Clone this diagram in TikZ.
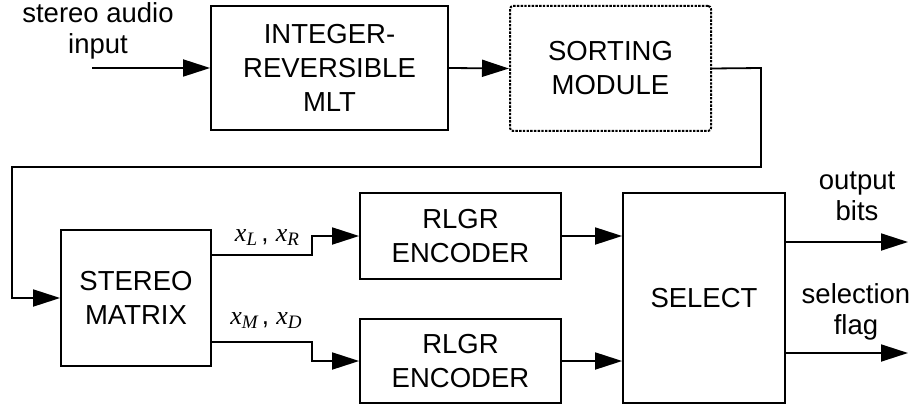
\documentclass[tikz,border=0pt]{standalone}
\usepackage{fontspec}
\setmainfont{Liberation Sans}
\newfontfamily\tmsfont{Liberation Serif}
\usetikzlibrary{arrows.meta,calc}
\newcommand{\mvar}[2]{{\tmsfont\itshape #1\raisebox{-0.35ex}{\fontsize{19}{19}\selectfont #2}}}
\begin{document}
\begin{tikzpicture}[x=1pt,y=-1pt,
  blk/.style={draw,line width=1.8pt,inner sep=0pt,align=center,
    font=\fontsize{27.5}{34}\selectfont},
  lbl/.style={inner sep=0pt,align=center,font=\fontsize{27.5}{31}\selectfont},
  arr/.style={line width=1.8pt,-{Triangle[length=27pt,width=17pt]}}]
\useasboundingbox (0,0) rectangle (915,406);
\node[blk,minimum width=237pt,minimum height=124pt] (mlt) at (329.5,68) {INTEGER-\\REVERSIBLE\\MLT};
\node[blk,line width=2pt,dash pattern=on 2.4pt off 1.3pt,rounded corners=3pt,minimum width=201pt,minimum height=125pt] (sort) at (610.5,68.5) {SORTING\\MODULE};
\node[blk,minimum width=150pt,minimum height=136pt] (sm) at (136,298) {STEREO\\MATRIX};
\node[blk,minimum width=201pt,minimum height=86pt] (r1) at (460.5,236) {RLGR\\ENCODER};
\node[blk,minimum width=201pt,minimum height=84pt] (r2) at (460.5,361) {RLGR\\ENCODER};
\node[blk,minimum width=162pt,minimum height=210pt] (sel) at (704,298) {SELECT};
\node[lbl] (in) at (98,31) {stereo audio\\input};
\node[lbl] (ob) at (857,196) {output\\bits};
\node[lbl] (sf) at (856,312) {selection\\flag};
\node[inner sep=0pt,anchor=base] (lab1) at (267,241) {\fontsize{26}{26}\selectfont\mvar{x}{L}\,, \mvar{x}{R}};
\node[inner sep=0pt,anchor=base] (lab2) at (266,324) {\fontsize{26}{26}\selectfont\mvar{x}{M}\,, \mvar{x}{D}};
\coordinate (src) at (92,68);
\coordinate (o1) at (908,242);
\coordinate (o2) at (908,353);
\draw[arr] (src) -- (mlt.west);
\draw[arr] (mlt.east) -- (sort.west);
\draw[arr] (sort.east) -- (761,68) -- (761,167) -- (12,167) -- (12,298) -- (sm.west);
\draw[arr] ([yshift=43pt]sm.east) -- (312,255) -- (312,236) -- (r1.west);
\draw[arr] ([yshift=-44pt]sm.east) -- (312,342) -- (312,361) -- (r2.west);
\draw[arr] (r1.east) -- (r1.east -| sel.west);
\draw[arr] (r2.east) -- (r2.east -| sel.west);
\draw[arr] ([yshift=56pt]sel.east) -- (o1);
\draw[arr] ([yshift=-55pt]sel.east) -- (o2);
\end{tikzpicture}
\end{document}
